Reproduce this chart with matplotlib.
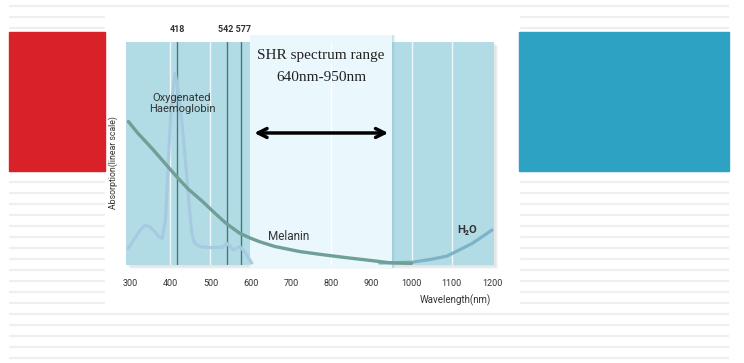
import numpy as np
import matplotlib
matplotlib.use('Agg')
import matplotlib.pyplot as plt
from matplotlib.patches import Rectangle
from matplotlib.transforms import blended_transform_factory

plt.rcParams['font.family'] = ['Roboto', 'DejaVu Sans']

# data (nm, absorption in arbitrary 0-100 units)
melanin_nm = [296, 320, 358, 385, 412, 445, 482, 510, 540, 573, 600, 623, 660, 723, 780, 847, 900, 946, 1000]
melanin_ab = [64.3, 59, 51.6, 46, 40.4, 34, 28.2, 23.4, 18.5, 14.2, 12, 10.4, 8.3, 6.0, 4.6, 3.1, 2.0, 1.0, 0.7]

water_nm = [921, 960, 1003, 1050, 1088, 1128, 1150, 1170, 1200]
water_ab = [0.9, 1.0, 1.3, 2.6, 4.0, 7.6, 9.6, 12, 15.7]

hb_nm = [296, 310, 325, 337, 350, 362, 372, 380, 388, 395, 402, 412,
         420, 430, 440, 447, 453, 460, 474, 500, 531, 540, 548, 557,
         565, 573, 582, 592, 602]
hb_ab = [7.5, 11.5, 15.5, 17.9, 17, 15, 12.5, 12, 20, 45, 70, 86,
         78, 62, 42, 27, 15, 10, 8.2, 7.8, 8, 9.7, 8.5, 6.7,
         7.5, 8.2, 6.5, 4, 1]

marker_nm = [418, 542, 577]
tick_nm = [300, 400, 500, 600, 700, 800, 900, 1000, 1100, 1200]
grid_nm = [400, 500, 800, 1000, 1100]
shr_range = (598, 951)

fig = plt.figure(figsize=(7.44, 3.63), dpi=100)

# slide background in pixel coordinates
bg = fig.add_axes([0, 0, 1, 1])
bg.set_xlim(0, 744)
bg.set_ylim(363, 0)
bg.axis('off')
for y in np.arange(5.7, 360, 11):
    bg.plot([9, 729], [y, y], color='#efefef', lw=1.6, zorder=1, solid_capstyle='butt')
bg.add_patch(Rectangle((105, 11), 414, 297, color='white', zorder=2))
bg.add_patch(Rectangle((9, 32), 96, 138.7, color='#d92129', zorder=3))
bg.add_patch(Rectangle((519, 32), 210, 138.7, color='#2ea2c3', zorder=3))
# soft shadow of the chart panel
for i in range(3):
    bg.add_patch(Rectangle((128 + i, 44 + i), 368, 223, color='#555555', alpha=0.05, lw=0, zorder=3))

ax = fig.add_axes([126 / 744, 1 - 265 / 363, 368 / 744, 223 / 363])
ax.set_xlim(290, 1205)
ax.set_ylim(0, 100)
ax.set_facecolor('#b1dce6')
for s in ax.spines.values():
    s.set_visible(False)
ax.set_yticks([])
ax.set_xticks(tick_nm)
ax.set_xticklabels([str(t) for t in tick_nm], fontsize=6.5, color='#333333')
ax.tick_params(axis='x', length=0, pad=10)

for g in grid_nm:
    ax.axvline(g, color='white', lw=1.0, alpha=0.8, zorder=1)

trans = blended_transform_factory(ax.transData, ax.transAxes)
# shadow of the range box
for i in range(3):
    ax.add_patch(Rectangle((shr_range[1], -0.013), 3 + 2.5 * i, 1.044, transform=trans, color='#8fbccb',
                           alpha=0.18, lw=0, zorder=1.5, clip_on=False))
ax.add_patch(Rectangle((shr_range[0], -0.013), shr_range[1] - shr_range[0], 1.044, transform=trans,
                       color='#eaf7fc', lw=0, zorder=2, clip_on=False))
for g in grid_nm:
    if shr_range[0] < g < shr_range[1]:
        ax.axvline(g, color='white', lw=1.0, zorder=2.1)

for m in marker_nm:
    ax.axvline(m, color='#4a777d', lw=1.0, zorder=3)

ax.plot(hb_nm, hb_ab, color='#a6cbe0', lw=2.3, zorder=4, solid_joinstyle='round')
ax.plot(water_nm, water_ab, color='#7fb2c6', lw=2.3, zorder=4, solid_capstyle='round')
ax.plot(melanin_nm, melanin_ab, color='#6f9f96', lw=2.4, zorder=5, solid_capstyle='round',
        solid_joinstyle='round')

ax.text(418, 1.054, '418', transform=trans, ha='center', va='center',
        fontsize=6.5, fontweight='bold', color='#333333')
ax.text(559, 1.054, '542 577', transform=trans, ha='center', va='center',
        fontsize=6.5, fontweight='bold', color='#333333')

ax.text(429, 72.4, 'Oxygenated\nHaemoglobin', ha='center', va='center', fontsize=8,
        color='#333333', linespacing=1.05, zorder=6)
ax.text(695, 12.6, 'Melanin', ha='center', va='center', fontsize=8.5, color='#333333', zorder=6)
ax.text(1138, 15.9, 'H\u2082O', ha='center', va='center', fontsize=8, fontweight='bold',
        color='#333333', zorder=6)
ax.text(0.894, -0.157, 'Wavelength(nm)', transform=ax.transAxes, ha='center', va='center',
        fontsize=7, color='#333333')
ax.text(-0.035, 0.46, 'Absorption(linear scale)', transform=ax.transAxes, ha='center',
        va='center', rotation=90, fontsize=6.3, color='#333333')

ax.text(775, 0.94, 'SHR spectrum range', transform=trans, ha='center', va='center',
        fontsize=11, family='Liberation Serif', color='#222222', zorder=6)
ax.text(775, 0.84, '640nm-950nm', transform=trans, ha='center', va='center',
        fontsize=11, family='Liberation Serif', color='#222222', zorder=6)

ax.annotate('', xy=(shr_range[1] - 2, 0.592), xytext=(shr_range[0] + 4, 0.592),
            xycoords=trans, textcoords=trans,
            arrowprops=dict(arrowstyle='<->', lw=2.5, color='black', mutation_scale=16),
            zorder=7, annotation_clip=False)

fig.savefig('out.png', dpi=100)
